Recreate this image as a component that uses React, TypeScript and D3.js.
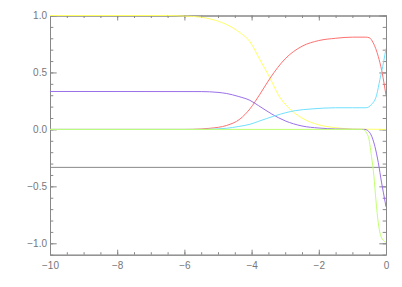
import { useRef, useEffect } from "react";
import {
    axisBottom,
    axisLeft,
    axisRight,
    axisTop,
    curveMonotoneX,
    line,
    range,
    scaleLinear,
    select,
    ScaleLinear,
} from "d3";

// series (x, value)
const yellowX = [-10, -6.5, -6, -5.5, -5.24, -4.74, -4.35, -4.05, -3.75, -3.45, -3.2, -2.9, -2.5, -2.0, -1.5, -1.0, 0];
const yellowY = [1, 1, 0.995, 0.985, 0.97, 0.92, 0.85, 0.77, 0.61, 0.45, 0.3, 0.19, 0.1, 0.04, 0.015, 0.003, 0];

const redX = [-10, -6, -5.5, -5.24, -4.74, -4.35, -4.05, -3.75, -3.45, -3.0, -2.5, -2.0, -1.5, -1.0, -0.6, -0.5, -0.38, -0.23, -0.13, -0.05, 0];
const redY = [0, 0, 0.004, 0.01, 0.035, 0.09, 0.18, 0.31, 0.45, 0.62, 0.73, 0.78, 0.8, 0.81, 0.81, 0.805, 0.76, 0.64, 0.52, 0.39, 0.3];

const purpleX = [-10, -5.5, -5, -4.74, -4.4, -4.05, -3.8, -3.4, -3.0, -2.5, -2.0, -1.5, -1.0, -0.63, -0.48, -0.33, -0.23, -0.13, -0.03, 0];
const purpleY = [0.333, 0.332, 0.325, 0.315, 0.29, 0.255, 0.21, 0.135, 0.075, 0.03, 0.012, 0.004, 0.001, 0, -0.03, -0.15, -0.29, -0.47, -0.63, -0.68];

const cyanX = [-10, -5.5, -5, -4.74, -4.4, -4.05, -3.8, -3.3, -2.7, -2.2, -1.5, -1.0, -0.6, -0.43, -0.28, -0.18, -0.1, -0.03, 0];
const cyanY = [0, 0, 0.005, 0.01, 0.025, 0.045, 0.07, 0.12, 0.165, 0.18, 0.19, 0.19, 0.19, 0.22, 0.3, 0.44, 0.55, 0.66, 0.71];

const greenX = [-10, -0.7, -0.53, -0.43, -0.36, -0.3, -0.23, -0.17, -0.09, 0];
const greenY = [0, 0, -0.06, -0.24, -0.41, -0.62, -0.82, -0.92, -0.97, -0.99];

const blackX = [-10, 0];
const blackY = [-1 / 3, -1 / 3];

const xMajor = [-10, -8, -6, -4, -2, 0];
const yMajor = [-1.0, -0.5, 0.0, 0.5, 1.0];

const series = [
    { xs: blackX, ys: blackY, color: "#888888" },
    { xs: yellowX, ys: yellowY, color: "#ffff66" },
    { xs: redX, ys: redY, color: "#ff7070" },
    { xs: purpleX, ys: purpleY, color: "#9a70e8" },
    { xs: cyanX, ys: cyanY, color: "#70e0ff" },
    { xs: greenX, ys: greenY, color: "#c0ff70" },
];

const axisColor = "#888";
const textColor = "#777";

interface AxisProps {
    scale: ScaleLinear<number, number>;
    transform: string;
}

function styleAxis(g: any, labels: boolean) {
    g.select(".domain").attr("stroke", axisColor);
    g.selectAll(".tick line").attr("stroke", axisColor);
    g.selectAll(".tick text")
        .attr("fill", textColor)
        .style("display", labels ? null : "none");
}

function XAxis({ scale, transform, top }: AxisProps & { top?: boolean }) {
    const ref = useRef<SVGGElement>(null);
    useEffect(() => {
        if (!ref.current) return;
        const g = select(ref.current);
        g.selectAll("*").remove();
        const mk = top ? axisTop : axisBottom;
        const minor = g.append("g");
        minor.call(
            mk(scale)
                .tickValues(range(-10, 0.01, 0.5))
                .tickSizeInner(-2.5)
                .tickSizeOuter(0)
                .tickFormat(() => "")
        );
        styleAxis(minor, false);
        const major = g.append("g");
        major.call(
            mk(scale)
                .tickValues(xMajor)
                .tickSizeInner(-5)
                .tickSizeOuter(0)
                .tickPadding(7)
                .tickFormat((d: any) => (d === 0 ? "0" : "\u2212" + Math.abs(d)))
        );
        styleAxis(major, !top);
    }, [scale, top]);
    return <g ref={ref} transform={transform} />;
}

function YAxis({ scale, transform, right }: AxisProps & { right?: boolean }) {
    const ref = useRef<SVGGElement>(null);
    useEffect(() => {
        if (!ref.current) return;
        const g = select(ref.current);
        g.selectAll("*").remove();
        const mk = right ? axisRight : axisLeft;
        const minor = g.append("g");
        minor.call(
            mk(scale)
                .tickValues(range(-11, 11, 1).map((v) => v / 10))
                .tickSizeInner(-3.3)
                .tickSizeOuter(0)
                .tickFormat(() => "")
        );
        styleAxis(minor, false);
        const major = g.append("g");
        major.call(
            mk(scale)
                .tickValues(yMajor)
                .tickSizeInner(-6.7)
                .tickSizeOuter(0)
                .tickPadding(3)
                .tickFormat((d: any) => (d < 0 ? "\u2212" + Math.abs(d).toFixed(1) : d.toFixed(1)))
        );
        styleAxis(major, !right);
    }, [scale, right]);
    return <g ref={ref} transform={transform} />;
}

export default function App() {
    const left = 50;
    const right = 386;
    const top = 15.5;
    const bottom = 254.7;

    const x = scaleLinear().domain([-10, 0]).range([left, right]);
    const y = scaleLinear().domain([-1.1, 1.0]).range([bottom, top]);

    const path = line<[number, number]>()
        .x((d) => x(d[0]))
        .y((d) => y(d[1]))
        .curve(curveMonotoneX);

    return (
        <svg
            width={402}
            height={287}
            style={{ position: "absolute", left: 0, top: 0, background: "#fff" }}
            fontFamily="'Liberation Sans', Arial, sans-serif"
            fontSize={7.5}
        >
            <defs>
                <clipPath id="plot">
                    <rect x={left} y={top - 1} width={right - left} height={bottom - top + 2} />
                </clipPath>
            </defs>
            <XAxis scale={x} transform={`translate(0, ${bottom})`} />
            <XAxis scale={x} transform={`translate(0, ${top})`} top />
            <YAxis scale={y} transform={`translate(${left}, 0)`} />
            <YAxis scale={y} transform={`translate(${right}, 0)`} right />
            <g clipPath="url(#plot)">
                {series.map((s, i) => (
                    <path
                        key={i}
                        d={path(s.xs.map((v, j) => [v, s.ys[j]] as [number, number])) ?? ""}
                        fill="none"
                        stroke={s.color}
                        strokeWidth={1}
                    />
                ))}
            </g>
        </svg>
    );
}
